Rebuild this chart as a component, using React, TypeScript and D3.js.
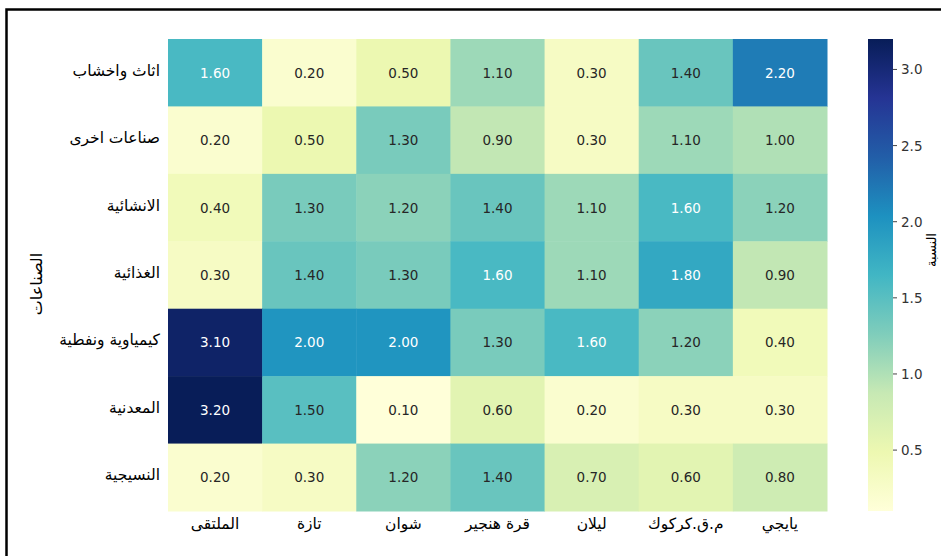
import React from "react";
import * as d3 from "d3";

const rows = ["اثاث واخشاب", "صناعات اخرى", "الانشائية", "الغذائية", "كيمياوية ونفطية", "المعدنية", "النسيجية"];
const cols = ["الملتقى", "تازة", "شوان", "قرة هنجير", "ليلان", "م.ق.كركوك", "يايجي"];
const values: number[][] = [
  [1.6, 0.2, 0.5, 1.1, 0.3, 1.4, 2.2],
  [0.2, 0.5, 1.3, 0.9, 0.3, 1.1, 1.0],
  [0.4, 1.3, 1.2, 1.4, 1.1, 1.6, 1.2],
  [0.3, 1.4, 1.3, 1.6, 1.1, 1.8, 0.9],
  [3.1, 2.0, 2.0, 1.3, 1.6, 1.2, 0.4],
  [3.2, 1.5, 0.1, 0.6, 0.2, 0.3, 0.3],
  [0.2, 0.3, 1.2, 1.4, 0.7, 0.6, 0.8],
];
const cbTicks = [0.5, 1.0, 1.5, 2.0, 2.5, 3.0];
const yTitle = "الصناعات";
const cbTitle = "النسبة";

const brewer = ["#ffffd9", "#edf8b1", "#c7e9b4", "#7fcdbb", "#41b6c4", "#1d91c0", "#225ea8", "#253494", "#081d58"];

function luminance(c: string) {
  const rgb = d3.rgb(c);
  const f = (v: number) => {
    const s = v / 255;
    return s <= 0.03928 ? s / 12.92 : Math.pow((s + 0.055) / 1.055, 2.4);
  };
  return 0.2126 * f(rgb.r) + 0.7152 * f(rgb.g) + 0.0722 * f(rgb.b);
}

export default function App() {
  const W = 941, H = 556;
  const left = 168, right = 827, top = 39, bottom = 511;
  const all = values.flat();
  const vmin = d3.min(all)!, vmax = d3.max(all)!;
  const color = d3
    .scaleLinear<string>()
    .domain(brewer.map((_, i) => vmin + (i * (vmax - vmin)) / (brewer.length - 1)))
    .range(brewer)
    .interpolate(d3.interpolateRgb)
    .clamp(true);
  const x = d3.scaleBand<string>().domain(cols).range([left, right]);
  const y = d3.scaleBand<string>().domain(rows).range([top, bottom]);
  const cbX = 868, cbW = 25;
  const cbY = d3.scaleLinear().domain([vmin, vmax]).range([bottom, top]);
  const arabicFont = "'DejaVu Sans', sans-serif";

  return (
    <svg width={W} height={H} style={{ position: "absolute", left: 0, top: 0, background: "#fff" }}>
      <defs>
        <linearGradient id="cbgrad" x1="0" y1="1" x2="0" y2="0">
          {brewer.map((c, i) => (
            <stop key={i} offset={i / (brewer.length - 1)} stopColor={c} />
          ))}
        </linearGradient>
      </defs>
      <rect x={6.5} y={9.5} width={1200} height={1200} fill="none" stroke="#000" strokeWidth={2.5} />
      {values.map((row, ri) =>
        row.map((v, ci) => {
          const c = color(v);
          const txt = luminance(c) > 0.408 ? "#262626" : "#ffffff";
          return (
            <g key={ri + "-" + ci}>
              <rect x={x(cols[ci])!} y={y(rows[ri])!} width={x.bandwidth() + 0.5} height={y.bandwidth() + 0.5} fill={c} />
              <text
                x={x(cols[ci])! + x.bandwidth() / 2}
                y={y(rows[ri])! + y.bandwidth() / 2}
                textAnchor="middle"
                dominantBaseline="central"
                fontFamily="'DejaVu Sans', sans-serif"
                fontSize={13.5}
                fill={txt}
              >
                {v.toFixed(2)}
              </text>
            </g>
          );
        })
      )}
      {rows.map((r) => (
        <text key={r} x={160} y={y(r)! + y.bandwidth() / 2 - 2} textAnchor="end" dominantBaseline="central" fontFamily={arabicFont} fontSize={15.5} fill="#000">
          {r}
        </text>
      ))}
      {cols.map((c) => (
        <text key={c} x={x(c)! + x.bandwidth() / 2} y={529} textAnchor="middle" fontFamily={arabicFont} fontSize={15.5} fill="#000">
          {c}
        </text>
      ))}
      <text transform={`translate(42,${284}) rotate(-90)`} textAnchor="middle" fontFamily={arabicFont} fontSize={16} fill="#000">
        {yTitle}
      </text>
      <rect x={cbX} y={top} width={cbW} height={bottom - top} fill="url(#cbgrad)" />
      {cbTicks.map((t) => (
        <g key={t}>
          <line x1={cbX + cbW} x2={cbX + cbW + 4} y1={cbY(t)} y2={cbY(t)} stroke="#444" strokeWidth={1} />
          <text x={cbX + cbW + 8} y={cbY(t)} dominantBaseline="central" fontFamily="'DejaVu Sans', sans-serif" fontSize={13.5} fill="#333">
            {t.toFixed(1)}
          </text>
        </g>
      ))}
      <text transform={`translate(936,${250}) rotate(-90)`} textAnchor="middle" fontFamily={arabicFont} fontSize={13} fill="#000">
        {cbTitle}
      </text>
    </svg>
  );
}
